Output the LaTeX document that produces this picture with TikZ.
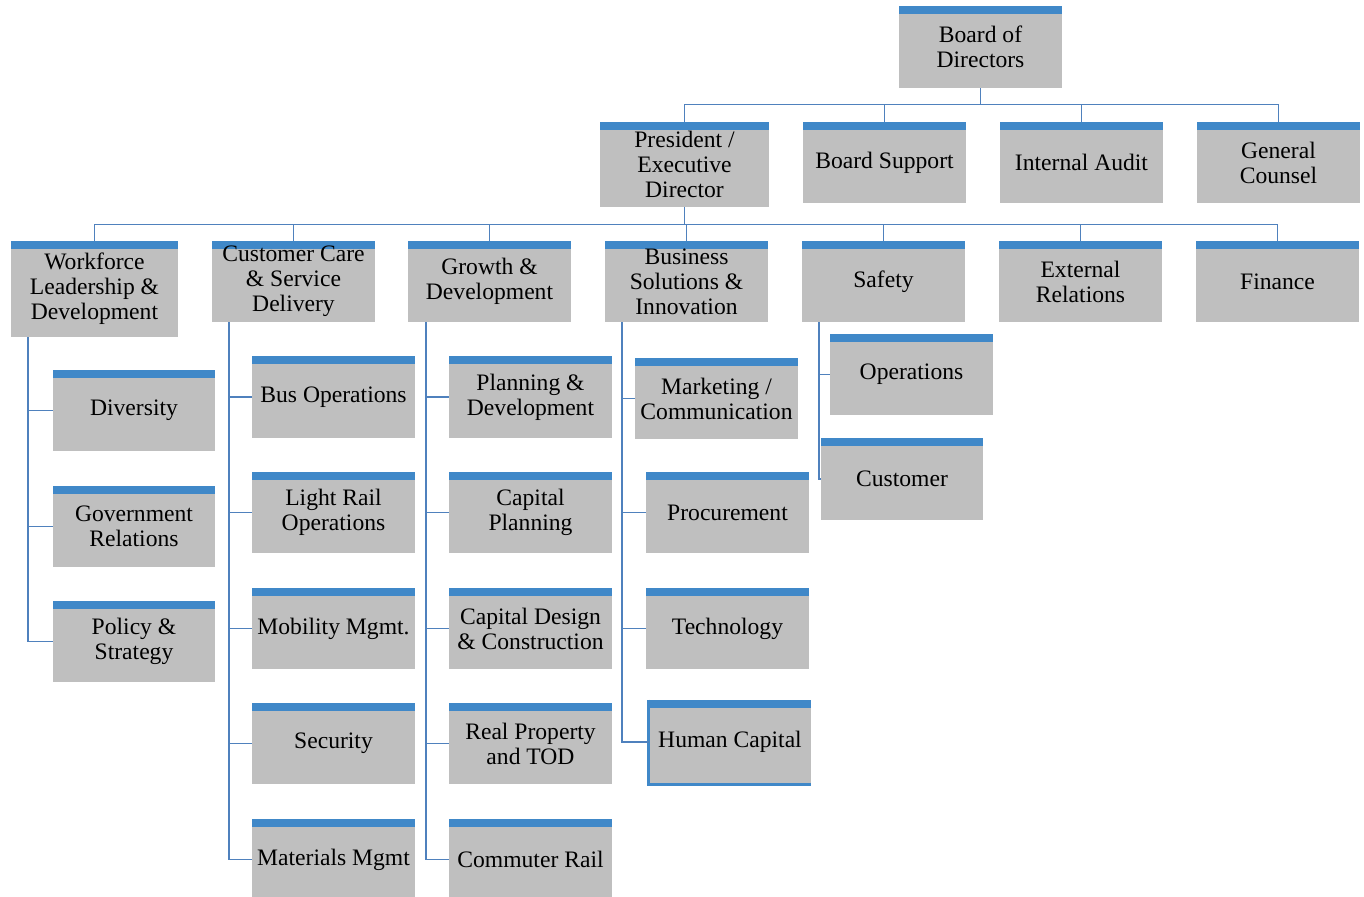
\documentclass[tikz,border=0pt]{standalone}
\usepackage{fontspec}
\setmainfont{Liberation Serif}
\definecolor{boxgray}{RGB}{191,191,191}
\definecolor{barblue}{RGB}{64,136,200}
\definecolor{linkblue}{RGB}{79,129,189}
\newcommand\unitfont{\fontsize{11.8}{12.5}\selectfont}
\tikzset{
  unit/.style={rectangle, fill=boxgray, minimum width=81.5pt, minimum height=40.5pt,
    inner sep=0pt, align=center, font=\unitfont,
    path picture={\fill[barblue] (path picture bounding box.north west)
      rectangle ([yshift=-4pt]path picture bounding box.north east);}},
  link/.style={draw=linkblue, line width=0.9pt}
}
\begin{document}
\begin{tikzpicture}[x=0.5pt,y=-0.5pt]
\useasboundingbox (0,0) rectangle (1364,896);
\clip (0,0) rectangle (1364,896);
% Top levels
\node[unit, minimum height=41pt] (bod) at (980.5,47) {Board of\\Directors};
\node[unit, minimum width=84.5pt, minimum height=42.5pt] (pres) at (684.5,164.5) {President /\\Executive\\Director};
\node[unit] (bsup) at (884.5,162.5) {Board Support};
\node[unit] (audit) at (1081.5,162.5) {Internal Audit};
\node[unit] (gc) at (1278.5,162.5) {General\\Counsel};

% Departments
\node[unit, minimum width=83.5pt, minimum height=48pt] (wld) at (94.5,289) {Workforce\\Leadership \&\\Development};
\node[unit] (ccsd) at (293.5,281.5) {Customer Care\\\& Service\\Delivery};
\node[unit] (gd) at (489.5,281.5) {Growth \&\\Development};
\node[unit] (bsi) at (686.5,281.5) {Business\\Solutions \&\\Innovation};
\node[unit] (saf) at (883.5,281.5) {Safety};
\node[unit] (ext) at (1080.5,281.5) {External\\Relations};
\node[unit] (fin) at (1277.5,281.5) {Finance};

% Workforce Leadership & Development
\node[unit, minimum width=81pt] (div) at (134,410.5) {Diversity};
\node[unit, minimum width=81pt] (gov) at (134,526.5) {Government\\Relations};
\node[unit, minimum width=81pt] (pol) at (134,641.5) {Policy \&\\Strategy};

% Customer Care & Service Delivery
\node[unit, minimum height=41pt] (bus) at (333.5,397) {Bus Operations};
\node[unit] (lrt) at (333.5,512.5) {Light Rail\\Operations};
\node[unit] (mob) at (333.5,628.5) {Mobility Mgmt.};
\node[unit] (sec) at (333.5,743.5) {Security};
\node[unit] (mat) at (333.5,859.5) {Materials Mgmt};

% Growth & Development
\node[unit, minimum height=41pt] (pld) at (530.5,397) {Planning \&\\Development};
\node[unit] (cpl) at (530.5,512.5) {Capital\\Planning};
\node[unit] (cdc) at (530.5,628.5) {Capital Design\\\& Construction};
\node[unit] (rpt) at (530.5,743.5) {Real Property\\and TOD};
\node[unit] (crl) at (530.5,859.5) {Commuter Rail};

% Business Solutions & Innovation
\node[unit] (mkt) at (716.5,398.5) {Marketing /\\Communication};
\node[unit] (proc) at (727.5,512.5) {Procurement};
\node[unit] (tech) at (727.5,628.5) {Technology};
\node[unit, minimum width=81pt, minimum height=42pt] (hc) at (730,742) {Human Capital};
\draw[barblue, line width=1.2pt] (hc.north west) -- (hc.south west) -- (hc.south east);

% Safety
\node[unit] (ops) at (911.5,374.5) {Operations};
\node[unit, minimum width=81pt, minimum height=41pt] (cust) at (902,479) {Customer};

% Connectors
\draw[link] (bod.south) -- ++(0,16) -| (pres.north);
\draw[link] (bod.south) -- ++(0,16) -| (bsup.north);
\draw[link] (bod.south) -- ++(0,16) -| (audit.north);
\draw[link] (bod.south) -- ++(0,16) -| (gc.north);

\draw[link] (pres.south) -- ++(0,17) -| (wld.north);
\draw[link] (pres.south) -- ++(0,17) -| (ccsd.north);
\draw[link] (pres.south) -- ++(0,17) -| (gd.north);
\draw[link] (pres.south) -- ++(0,17) -| (bsi.north);
\draw[link] (pres.south) -- ++(0,17) -| (saf.north);
\draw[link] (pres.south) -- ++(0,17) -| (ext.north);
\draw[link] (pres.south) -- ++(0,17) -| (fin.north);

\draw[link] ([xshift=8.5pt]wld.south west) |- (div.west);
\draw[link] ([xshift=8.5pt]wld.south west) |- (gov.west);
\draw[link] ([xshift=8.5pt]wld.south west) |- (pol.west);

\draw[link] ([xshift=8.5pt]ccsd.south west) |- (bus.west);
\draw[link] ([xshift=8.5pt]ccsd.south west) |- (lrt.west);
\draw[link] ([xshift=8.5pt]ccsd.south west) |- (mob.west);
\draw[link] ([xshift=8.5pt]ccsd.south west) |- (sec.west);
\draw[link] ([xshift=8.5pt]ccsd.south west) |- (mat.west);

\draw[link] ([xshift=9pt]gd.south west) |- (pld.west);
\draw[link] ([xshift=9pt]gd.south west) |- (cpl.west);
\draw[link] ([xshift=9pt]gd.south west) |- (cdc.west);
\draw[link] ([xshift=9pt]gd.south west) |- (rpt.west);
\draw[link] ([xshift=9pt]gd.south west) |- (crl.west);

\draw[link] ([xshift=8.5pt]bsi.south west) |- (mkt.west);
\draw[link] ([xshift=8.5pt]bsi.south west) |- (proc.west);
\draw[link] ([xshift=8.5pt]bsi.south west) |- (tech.west);
\draw[link] ([xshift=8.5pt]bsi.south west) |- (hc.west);

\draw[link] ([xshift=8.5pt]saf.south west) |- (ops.west);
\draw[link] ([xshift=8.5pt]saf.south west) |- (cust.west);
\end{tikzpicture}
\end{document}
